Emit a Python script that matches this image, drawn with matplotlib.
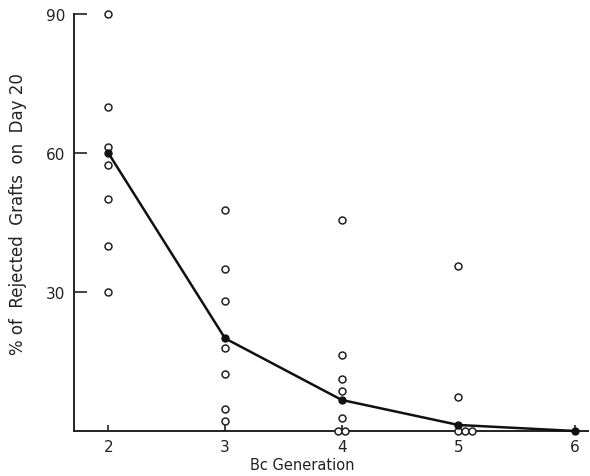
import matplotlib
matplotlib.use("Agg")
import matplotlib.pyplot as plt

# Data
gen2_x = [2, 2, 2, 2, 2, 2, 2]
gen2_y = [90, 70, 61.3, 57.5, 50, 40, 30]
gen3_x = [3, 3, 3, 3, 3, 3, 3]
gen3_y = [47.7, 35, 28, 18, 12.2, 4.8, 2.2]
gen4_x = [4, 4, 4, 4, 4, 3.97, 4.03]
gen4_y = [45.6, 16.3, 11.3, 8.6, 2.8, 0, 0]
gen5_x = [5, 5, 5, 5.06, 5.12]
gen5_y = [35.6, 7.4, 0, 0, 0]
mean_x = [2, 3, 4, 5, 6]
mean_y = [60, 20, 6.7, 1.3, 0]

x_ticks = [2, 3, 4, 5, 6]
y_ticks = [30, 60, 90]

fig = plt.figure(figsize=(5.9, 4.77), dpi=100)
ax = fig.add_axes([74/590, 45/477, 514/590, 417/477])

open_x = gen2_x + gen3_x + gen4_x + gen5_x
open_y = gen2_y + gen3_y + gen4_y + gen5_y
ax.plot(open_x, open_y, linestyle="none", marker="o", markersize=5,
        markerfacecolor="white", markeredgecolor="#222222", markeredgewidth=1.1,
        clip_on=False, zorder=3)
ax.plot(mean_x, mean_y, color="#111111", linewidth=1.8, marker="o",
        markersize=5, markerfacecolor="#111111", markeredgecolor="#111111",
        clip_on=False, zorder=4)

ax.set_xlim(1.706, 6.11)
ax.set_ylim(0, 90)
ax.set_xticks(x_ticks)
ax.set_xticklabels([str(v) for v in x_ticks])
ax.set_yticks(y_ticks)
ax.set_yticklabels([str(v) for v in y_ticks])

for s in ["top", "right"]:
    ax.spines[s].set_visible(False)
for s in ["left", "bottom"]:
    ax.spines[s].set_linewidth(1.4)
    ax.spines[s].set_color("#222222")

ax.tick_params(axis="y", direction="in", length=9, width=1.2, pad=6,
               labelsize=11, colors="#222222")
ax.tick_params(axis="x", direction="in", length=4, width=1.2, pad=6,
               labelsize=11, colors="#222222")

ax.set_xlabel("Bc Generation", fontsize=10.5, color="#222222")
ax.xaxis.set_label_coords(0.444, -0.063)
ax.set_ylabel("% of  Rejected  Grafts  on  Day 20", fontsize=12, color="#222222")
ax.yaxis.set_label_coords(-0.091, 0.523)

fig.savefig("out.png", dpi=100)
